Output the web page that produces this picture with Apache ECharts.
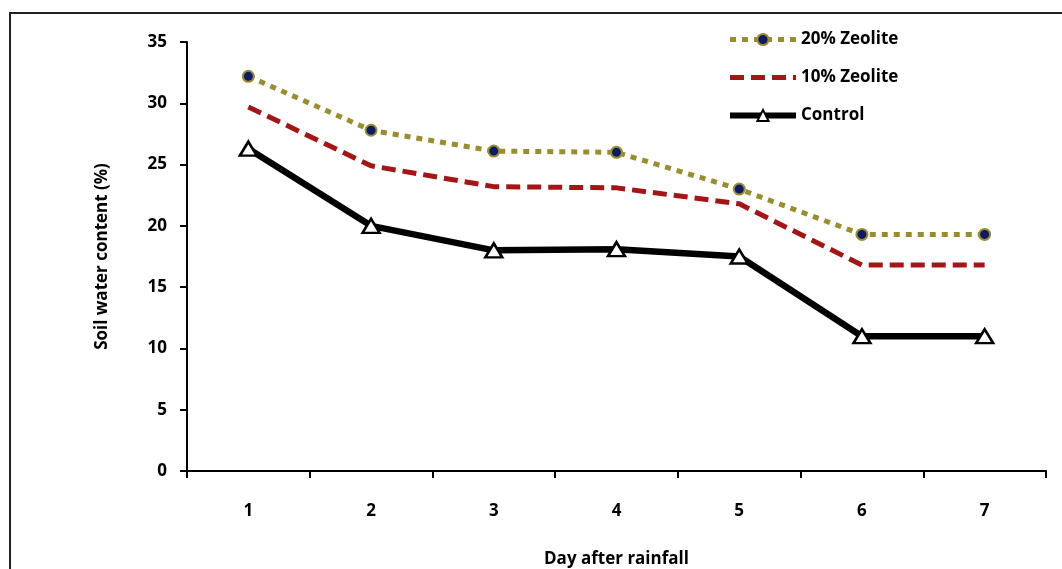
<!DOCTYPE html>
<html>
<head>
<meta charset="utf-8">
<script src="https://cdn.jsdelivr.net/npm/echarts@6/dist/echarts.min.js"></script>
<style>
  html, body { margin: 0; padding: 0; background: #fff; }
  #main { width: 1062px; height: 569px; }
</style>
</head>
<body>
<div id="main"></div>
<script>
var days = ['1', '2', '3', '4', '5', '6', '7'];
var zeolite20 = [32.2, 27.8, 26.1, 26.0, 23.0, 19.3, 19.3];
var zeolite10 = [29.7, 24.9, 23.2, 23.1, 21.8, 16.8, 16.8];
var control = [26.3, 20.0, 18.0, 18.1, 17.5, 11.0, 11.0];
var yTicks = [0, 5, 10, 15, 20, 25, 30, 35];

var font = '"Open Sans", "Liberation Sans", sans-serif';

var chart = echarts.init(document.getElementById('main'));

var option = {
    animation: false,
    graphic: [
        {
            type: 'rect',
            shape: { x: 10, y: 13, width: 1100, height: 600 },
            style: { fill: 'none', stroke: '#222', lineWidth: 2 }
        }
    ],
    grid: { left: 187, right: 16, top: 42, bottom: 98, containLabel: false, outerBoundsMode: 'none' },
    legend: {
        orient: 'vertical',
        left: 722,
        top: 26,
        itemWidth: 66,
        itemHeight: 14,
        itemGap: 21,
        textStyle: { fontFamily: font, fontWeight: 'bold', fontSize: 17, color: '#000' },
        data: [
            { name: '20% Zeolite', lineStyle: { width: 5 } },
            { name: '10% Zeolite', lineStyle: { width: 5 }, itemStyle: { opacity: 0 } },
            { name: 'Control', lineStyle: { width: 6 } }
        ]
    },
    xAxis: {
        type: 'category',
        data: days,
        boundaryGap: true,
        name: 'Day after rainfall',
        nameLocation: 'middle',
        nameGap: 80,
        nameTextStyle: { fontFamily: font, fontWeight: 'bold', fontSize: 17, color: '#000' },
        axisLine: { lineStyle: { color: '#000', width: 2 } },
        axisTick: { show: true, alignWithLabel: false, length: 7, lineStyle: { color: '#000', width: 2 } },
        axisLabel: { fontFamily: font, fontWeight: 'bold', fontSize: 17, color: '#000', margin: 32 },
        splitLine: { show: false }
    },
    yAxis: {
        type: 'value',
        min: yTicks[0],
        max: yTicks[yTicks.length - 1],
        interval: 5,
        name: 'Soil water content (%)',
        nameLocation: 'middle',
        nameGap: 76,
        nameTextStyle: { fontFamily: font, fontWeight: 'bold', fontSize: 17, color: '#000' },
        axisLine: { show: true, lineStyle: { color: '#000', width: 2 } },
        axisTick: { show: true, length: 7, lineStyle: { color: '#000', width: 2 } },
        axisLabel: { fontFamily: font, fontWeight: 'bold', fontSize: 17, color: '#000', margin: 20 },
        splitLine: { show: false }
    },
    series: [
        {
            name: '20% Zeolite',
            type: 'line',
            data: zeolite20,
            symbol: 'circle',
            symbolSize: 11,
            itemStyle: { color: '#0d1a6b', borderColor: '#9a8d2c', borderWidth: 2 },
            lineStyle: { color: '#9a8d2c', width: 5, type: [6, 6] },
            z: 3
        },
        {
            name: '10% Zeolite',
            type: 'line',
            data: zeolite10,
            symbol: 'none',
            itemStyle: { color: '#a51515' },
            lineStyle: { color: '#a51515', width: 5, type: [14, 7] },
            z: 2
        },
        {
            name: 'Control',
            type: 'line',
            data: control,
            symbol: 'triangle',
            symbolSize: [17, 14],
            itemStyle: { color: '#fff', borderColor: '#000', borderWidth: 2.5 },
            lineStyle: { color: '#000', width: 6.5 },
            z: 1
        }
    ]
};

chart.setOption(option);
</script>
</body>
</html>
